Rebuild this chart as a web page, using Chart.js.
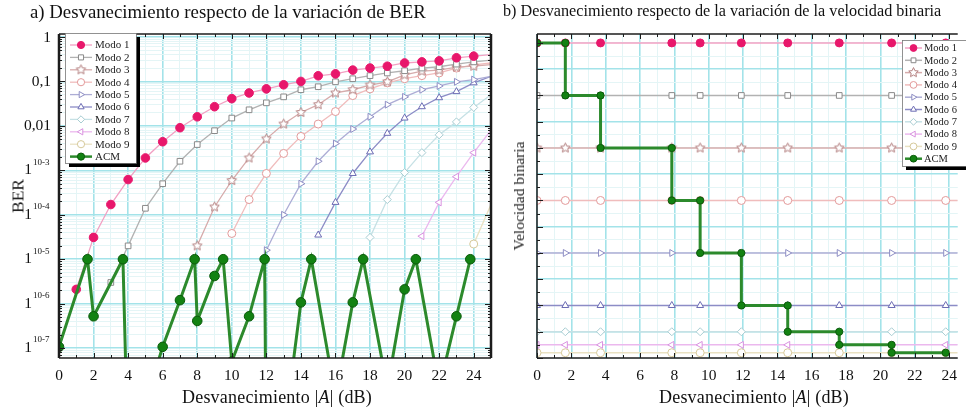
<!DOCTYPE html>
<html>
<head>
<meta charset="utf-8">
<script src="https://cdn.jsdelivr.net/npm/chart.js@4/dist/chart.umd.min.js"></script>
<style>
body{margin:0;background:#fff;width:966px;height:414px;overflow:hidden;position:relative;font-family:"Liberation Serif","DejaVu Serif",serif;color:#111}
.pane{position:absolute;top:0}
.ttl{position:absolute;top:1px;font-size:18.8px;white-space:nowrap}
.xt{position:absolute;top:387px;font-size:18px;letter-spacing:0.2px;white-space:nowrap;transform:translateX(-50%)}
.yt{position:absolute;white-space:nowrap;transform:translate(-50%,-50%) rotate(-90deg);color:#222}
</style>
</head>
<body>
<div class="pane" style="left:0"><canvas id="ber" width="500" height="414"></canvas></div>
<div class="pane" style="left:500px"><canvas id="rate" width="466" height="414"></canvas></div>
<div class="ttl" style="left:30px">a) Desvanecimiento respecto de la variación de BER</div>
<div class="ttl" style="left:503px;top:2px;font-size:16.2px">b) Desvanecimiento respecto de la variación de la velocidad binaria</div>
<div class="xt" style="left:277px">Desvanecimiento |<i>A</i>| (dB)</div>
<div class="xt" style="left:754px">Desvanecimiento |<i>A</i>| (dB)</div>
<div class="yt" style="left:18px;top:196px;font-size:17.5px">BER</div>
<div class="yt" style="left:519px;top:196px;font-size:15.5px">Velocidad binaria</div>
<script>
// ---- data: BER vs fading (panel a) ----
const modeNames = ['Modo 1','Modo 2','Modo 3','Modo 4','Modo 5','Modo 6','Modo 7','Modo 8','Modo 9'];
const dBTicks = [0,1,2,3,4,5,6,7,8,9,10,11,12,13,14,15,16,17,18,19,20,21,22,23,24,25];
// first dB value of each mode's curve (one point per dB after that)
const modeStart = [1, 3, 8, 10, 12, 15, 18, 21, 24];
const modo1 = [2.1e-6,3.1e-5,1.7e-4,6.2e-4,1.9e-3,4.4e-3,9.1e-3,0.016,0.027,0.041,0.055,0.068,0.084,0.10,0.134,0.148,0.18,0.20,0.22,0.26,0.275,0.29,0.34,0.37,0.40];
const modo2 = [3.0e-6,2.0e-5,1.4e-4,5.0e-4,1.6e-3,3.8e-3,7.8e-3,0.015,0.023,0.033,0.045,0.065,0.076,0.098,0.115,0.135,0.155,0.174,0.20,0.214,0.245,0.275,0.30];
const modo3 = [2.0e-5,1.5e-4,5.9e-4,1.9e-3,5.1e-3,0.011,0.020,0.030,0.055,0.065,0.083,0.098,0.14,0.17,0.18,0.21,0.22,0.24];
const modo4 = [3.8e-5,2.2e-4,8.5e-4,2.4e-3,5.8e-3,0.011,0.021,0.048,0.068,0.093,0.115,0.135,0.155,0.20,0.235,0.26];
const modo5 = [1.6e-5,1.0e-4,5.0e-4,1.6e-3,4.0e-3,8.5e-3,0.016,0.030,0.045,0.065,0.079,0.098,0.11,0.13];
const modo6 = [3.5e-5,1.9e-4,8.5e-4,2.6e-3,6.8e-3,0.015,0.027,0.043,0.059,0.093,0.13];
const modo7 = [3.1e-5,2.2e-4,8.9e-4,2.5e-3,6.3e-3,0.0123,0.026,0.05];
const modo8 = [3.3e-5,1.9e-4,7.2e-4,2.5e-3,8e-3];
const modo9 = [2.2e-5,1.7e-4];
const modeBer = [modo1,modo2,modo3,modo4,modo5,modo6,modo7,modo8,modo9];

const acmX   = [0,1.65,2,3.7,4,6,7,7.85,8,9,9.5,10,11,11.9,12,13,14,14.6,16,17,17.6,19,20,20.65,22,23,23.8];
const acmBer = [1.07e-7,1e-5,5.2e-7,1e-5,3.2e-10,1.07e-7,1.2e-6,1e-5,4.1e-7,4.2e-6,1e-5,5e-8,5.2e-7,1e-5,1e-10,1e-9,1.07e-6,1e-5,8e-9,1.07e-6,1e-5,1.26e-8,2.1e-6,1e-5,1.26e-8,5.2e-7,1e-5];

const berLabelVals = [1,0.1,0.01,1e-3,1e-4,1e-5,1e-6,1e-7];
const berLabelText = ['1','0,1','0,01','1','1','1','1','1'];
const berLabelSup  = ['','','','10-3','10-4','10-5','10-6','10-7'];

// ---- data: binary rate vs fading (panel b) ----
const switchX  = [0,1.65,3.7,7.85,9.5,11.9,14.6,17.6,20.65,23.8,24.5];
const modeRate = [12,10,8,6,4,2,1,0.5,0.2];
const acmStepX = [0,1.65,1.65,3.7,3.7,7.85,7.85,9.5,9.5,11.9,11.9,14.6,14.6,17.6,17.6,20.65,20.65,23.8];
const acmStepY = [12,12,10,10,8,8,6,6,4,4,2,2,1,1,0.5,0.5,0.2,0.2];
const rateTicks = [0,0.5,1,1.5,2,2.5,3,3.5,4,4.5,5,5.5,6,6.5,7,7.5,8,8.5,9,9.5,10,10.5,11,11.5,12];

// ---- styles ----
const MAJOR = '#a3e3e9', MINOR = '#e4f5f6', AX = '#1c1c1c';
function starImg(color, r) {
  const c = document.createElement('canvas'); const s = Math.ceil(r * 2 + 3);
  c.width = c.height = s;
  const g = c.getContext('2d');
  g.strokeStyle = color; g.fillStyle = '#fff'; g.lineWidth = 1;
  g.beginPath();
  for (let k = 0; k < 10; k++) {
    const rr = k % 2 ? r * 0.48 : r, a = -Math.PI / 2 + k * Math.PI / 5;
    g.lineTo(s / 2 + rr * Math.cos(a), s / 2 + rr * Math.sin(a));
  }
  g.closePath(); g.fill(); g.stroke();
  return c;
}
const modeStyle = [
  {c:'#e8176b', l:'#f2a0c3', ps:'circle', fill:'#e8176b'},
  {c:'#8a8a8a', l:'#b2b2b2', ps:'rect', fill:'#fff'},
  {c:'#b07a7a', l:'#d6abab', ps:starImg('#b07a7a', 5), fill:'#fff'},
  {c:'#e39a9a', l:'#f0bcbc', ps:'circle', fill:'#fff'},
  {c:'#8e8ec4', l:'#adadd5', ps:'triangle', rot:90, fill:'#fff'},
  {c:'#6c6cb4', l:'#8c8cc6', ps:'triangle', fill:'#fff'},
  {c:'#a8cdd2', l:'#c6e1e5', ps:'rectRot', fill:'#fff'},
  {c:'#d992e0', l:'#ebb8ee', ps:'triangle', rot:-90, fill:'#fff'},
  {c:'#d6c99a', l:'#e9e1c2', ps:'circle', fill:'#fff'}
];
const ACM_LINE = '#2c8a2c', ACM_PT = '#128212', ACM_EDGE = '#0b5a0b';

Chart.defaults.font.family = '"Liberation Serif","DejaVu Serif",serif';
Chart.defaults.color = '#111';

function hideEnd(r) { return c => (c.raw && c.raw.x > 24.2) ? 0 : r; }
function isDecade(v) { const l = Math.log10(v); return Math.abs(l - Math.round(l)) < 1e-9; }

// frame with inward ticks
const frame = {
  id: 'frame',
  afterDatasetsDraw(chart, args, o) {
    const {ctx, chartArea: a, scales: {x, y}} = chart;
    ctx.save();
    ctx.strokeStyle = AX; ctx.lineWidth = 1;
    const seg = (x1, y1, x2, y2) => { ctx.beginPath(); ctx.moveTo(x1, y1); ctx.lineTo(x2, y2); ctx.stroke(); };
    x.ticks.forEach(t => {
      const px = Math.round(x.getPixelForValue(t.value)) + 0.5;
      const len = t.value % 2 === 0 ? 5 : 3;
      seg(px, a.bottom, px, a.bottom - len);
      seg(px, a.top, px, a.top + len);
    });
    y.ticks.forEach(t => {
      const py = Math.round(y.getPixelForValue(t.value)) + 0.5;
      const len = o.major(t.value) ? 6 : 3;
      seg(a.left, py, a.left + len, py);
      if (o.right) seg(a.right, py, a.right - len, py);
    });
    ctx.lineWidth = 1.5;
    seg(a.left, a.bottom, a.right, a.bottom);
    seg(a.left, a.top, a.right, a.top);
    ctx.lineWidth = o.leftW;
    seg(a.left, a.top, a.left, a.bottom);
    if (o.right) { ctx.lineWidth = o.rightW; seg(a.right, a.top, a.right, a.bottom); }
    ctx.restore();
  }
};

// boxed legend with black shadow
const boxLegend = {
  id: 'boxLegend',
  afterDraw(chart, args, o) {
    const ctx = chart.ctx;
    ctx.save();
    ctx.fillStyle = '#000';
    ctx.fillRect(o.x + 4, o.y + 4, o.w, o.h);
    ctx.fillStyle = '#fff';
    ctx.fillRect(o.x, o.y, o.w, o.h);
    ctx.strokeStyle = '#777'; ctx.lineWidth = 0.8;
    ctx.strokeRect(o.x + 0.5, o.y + 0.5, o.w, o.h);
    ctx.font = o.size + 'px "Liberation Serif"';
    ctx.textBaseline = 'middle';
    chart.data.datasets.forEach((d, i) => {
      const yy = o.y + o.first + i * o.step;
      ctx.strokeStyle = d.borderColor; ctx.lineWidth = Math.min(d.borderWidth, 2.5);
      ctx.beginPath(); ctx.moveTo(o.x + o.l0, yy); ctx.lineTo(o.x + o.l1, yy); ctx.stroke();
      ctx.fillStyle = d.pointBackgroundColor; ctx.strokeStyle = d.pointBorderColor; ctx.lineWidth = d.pointBorderWidth;
      Chart.helpers.drawPoint(ctx, {pointStyle: d.pointStyle, rotation: d.pointRotation || 0, radius: o.r, borderWidth: d.pointBorderWidth}, o.x + (o.l0 + o.l1) / 2, yy);
      ctx.fillStyle = '#222';
      ctx.fillText(d.label, o.x + o.tx, yy + 0.5);
    });
    ctx.restore();
  }
};

// BER axis labels "1", "0,1", "0,01", "1^10-3" ...
const berLabels = {
  id: 'berLabels',
  afterDraw(chart) {
    const {ctx, scales: {y}} = chart;
    ctx.save();
    ctx.fillStyle = '#111'; ctx.textBaseline = 'middle';
    berLabelVals.forEach((v, i) => {
      const py = y.getPixelForValue(v) + (i === 0 ? 1 : 0);
      ctx.font = '15.5px "Liberation Serif"';
      if (!berLabelSup[i]) {
        ctx.textAlign = 'right'; ctx.fillText(berLabelText[i], 51, py);
      } else {
        ctx.textAlign = 'right'; ctx.fillText(berLabelText[i], 32, py);
        ctx.font = '9px "Liberation Serif"';
        ctx.textAlign = 'left'; ctx.fillText(berLabelSup[i], 33, py - 8);
      }
    });
    ctx.restore();
  }
};

// ---------- panel a ----------
const berSets = modeBer.map((vals, m) => {
  const s = modeStyle[m];
  return {
    label: modeNames[m],
    data: vals.map((v, k) => ({x: modeStart[m] + k, y: v})),
    borderColor: s.l, borderWidth: 1.3,
    pointStyle: s.ps, pointRotation: s.rot || 0,
    pointBackgroundColor: s.fill, pointBorderColor: s.c, pointBorderWidth: 1,
    pointRadius: hideEnd(m === 0 ? 4.3 : 4), tension: 0
  };
});
berSets.push({
  label: 'ACM',
  data: acmX.map((x, k) => ({x, y: acmBer[k]})),
  borderColor: ACM_LINE, borderWidth: 3,
  pointStyle: 'circle', pointBackgroundColor: ACM_PT, pointBorderColor: ACM_EDGE, pointBorderWidth: 1,
  pointRadius: 4.8, order: -1, tension: 0
});

const yMinBer = Math.pow(10, -7.2), yMaxBer = Math.pow(10, 0.067);
const berTicks = [];
for (let e = -8; e <= 0; e++) for (let m = 1; m < 10; m++) {
  const v = m * Math.pow(10, e);
  if (v >= yMinBer && v <= yMaxBer) berTicks.push(v);
}

new Chart(document.getElementById('ber'), {
  type: 'line',
  data: {datasets: berSets},
  options: {
    responsive: false, animation: false, devicePixelRatio: 1,
    layout: {padding: {top: 34, right: 3, left: 0, bottom: 0}},
    plugins: {
      legend: {display: false}, tooltip: {enabled: false},
      frame: {major: isDecade, right: true, leftW: 2.5, rightW: 2.5},
      boxLegend: {x: 65, y: 33, w: 71, h: 130, first: 12, step: 12.4, l0: 5, l1: 27, r: 3.6, tx: 30, size: 11}
    },
    scales: {
      x: {
        type: 'linear', min: 0, max: 25,
        afterBuildTicks: s => { s.ticks = dBTicks.map(v => ({value: v})); },
        ticks: {autoSkip: false, maxRotation: 0, padding: 9, font: {size: 15.5}, callback: v => v % 2 === 0 ? String(v) : ''},
        grid: {drawTicks: false, color: c => c.tick && c.tick.value % 2 === 0 ? MAJOR : MINOR, lineWidth: c => c.tick && c.tick.value % 2 === 0 ? 1.6 : 1},
        border: {display: false},
        afterFit: s => { s.height = 56; }
      },
      y: {
        type: 'logarithmic', min: yMinBer, max: yMaxBer,
        afterBuildTicks: s => { s.ticks = berTicks.map(v => ({value: v, major: isDecade(v)})); },
        ticks: {display: false},
        grid: {drawTicks: false, color: c => c.tick && isDecade(c.tick.value) ? MAJOR : MINOR, lineWidth: c => c.tick && isDecade(c.tick.value) ? 1.6 : 1},
        border: {display: false},
        afterFit: s => { s.width = 59; }
      }
    }
  },
  plugins: [frame, boxLegend, berLabels]
});

// ---------- panel b ----------
const rateSets = modeRate.map((r, m) => {
  const s = modeStyle[m];
  return {
    label: modeNames[m],
    data: switchX.map(x => ({x, y: r})),
    borderColor: s.l, borderWidth: 1.5,
    pointStyle: s.ps, pointRotation: s.rot || 0,
    pointBackgroundColor: s.fill, pointBorderColor: s.c, pointBorderWidth: 1,
    pointRadius: hideEnd(4), tension: 0
  };
});
rateSets.push({
  label: 'ACM',
  data: acmStepX.map((x, k) => ({x, y: acmStepY[k]})),
  borderColor: ACM_LINE, borderWidth: 3,
  pointStyle: 'circle', pointBackgroundColor: ACM_PT, pointBorderColor: ACM_EDGE, pointBorderWidth: 1,
  pointRadius: 3.6, order: -1, tension: 0
});

new Chart(document.getElementById('rate'), {
  type: 'line',
  data: {datasets: rateSets},
  options: {
    responsive: false, animation: false, devicePixelRatio: 1,
    layout: {padding: {top: 34, right: 1, left: 0, bottom: 0}},
    plugins: {
      legend: {display: false}, tooltip: {enabled: false},
      frame: {major: v => Number.isInteger(v), right: false, leftW: 1.5},
      boxLegend: {x: 402, y: 40, w: 70, h: 126, first: 8, step: 12.3, l0: 3, l1: 20, r: 3.4, tx: 22, size: 10.5}
    },
    scales: {
      x: {
        type: 'linear', min: 0, max: 24.5,
        afterBuildTicks: s => { s.ticks = dBTicks.filter(v => v <= 24).map(v => ({value: v})); },
        ticks: {autoSkip: false, maxRotation: 0, padding: 9, font: {size: 15.5}, callback: v => v % 2 === 0 ? String(v) : ''},
        grid: {drawTicks: false, color: c => c.tick && c.tick.value % 2 === 0 ? MAJOR : MINOR, lineWidth: c => c.tick && c.tick.value % 2 === 0 ? 1.6 : 1},
        border: {display: false},
        afterFit: s => { s.height = 56; }
      },
      y: {
        type: 'linear', min: 0, max: 12.34,
        afterBuildTicks: s => { s.ticks = rateTicks.map(v => ({value: v})); },
        ticks: {display: false},
        grid: {drawTicks: false, color: c => c.tick && c.tick.value % 2 === 1 ? MAJOR : MINOR, lineWidth: c => c.tick && c.tick.value % 2 === 1 ? 1.6 : 1},
        border: {display: false},
        afterFit: s => { s.width = 37; }
      }
    }
  },
  plugins: [frame, boxLegend]
});
</script>
</body>
</html>
